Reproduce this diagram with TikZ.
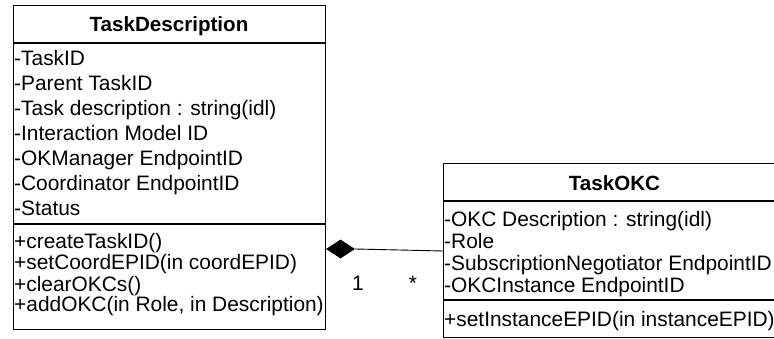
\documentclass[tikz,border=0pt]{standalone}
\usepackage{fontspec}
\setmainfont{Liberation Sans}
\usetikzlibrary{shapes.geometric}

\tikzset{
  classbox/.style={draw, line width=1.2pt, inner sep=0pt, anchor=north west},
  member/.style={anchor=base west, inner sep=0pt, font=\fontsize{20.9}{24}\selectfont},
  classname/.style={anchor=base, inner sep=0pt, font=\fontsize{20.6}{24}\selectfont\bfseries},
  comp/.style={diamond, fill=black, inner sep=0pt, minimum width=29pt, minimum height=19pt},
  mult/.style={anchor=base, inner sep=0pt, font=\fontsize{20.9}{24}\selectfont},
}

\begin{document}
\begin{tikzpicture}[x=1pt, y=-1pt]
        \useasboundingbox (0,0) rectangle (774,339);

        % TaskDescription class
        \node[classbox, minimum width=312pt, minimum height=324pt] (desc) at (13,5) {};
        \draw[line width=1.2pt] (desc.west |- 0,43) -- (desc.east |- 0,43);
        \draw[line width=1.2pt] (desc.west |- 0,224) -- (desc.east |- 0,224);
        \node[classname] (desctitle) at (169,31.5) {TaskDescription};
        \node[member] (da1) at (14,65.5) {-TaskID};
        \node[member] (da2) at (14,90.5) {-Parent TaskID};
        \node[member] (da3) at (14,115.5) {-Task description : string(idl)};
        \node[member] (da4) at (14,140.5) {-Interaction Model ID};
        \node[member] (da5) at (14,165.5) {-OKManager EndpointID};
        \node[member] (da6) at (14,190.5) {-Coordinator EndpointID};
        \node[member] (da7) at (14,215.5) {-Status};
        \node[member] (dm1) at (14,248.5) {+createTaskID()};
        \node[member] (dm2) at (14,269.5) {+setCoordEPID(in coordEPID)};
        \node[member] (dm3) at (14,291) {+clearOKCs()};
        \node[member] (dm4) at (14,312) {+addOKC(in Role, in Description)};

        % TaskOKC class
        \node[classbox, minimum width=343pt, minimum height=174pt] (okc) at (443,163) {};
        \draw[line width=1.2pt] (okc.west |- 0,201) -- (okc.east |- 0,201);
        \draw[line width=1.2pt] (okc.west |- 0,300) -- (okc.east |- 0,300);
        \node[classname] (okctitle) at (614.5,190.5) {TaskOKC};
        \node[member] (oa1) at (444,226.5) {-OKC Description : string(idl)};
        \node[member] (oa2) at (444,248.5) {-Role};
        \node[member] (oa3) at (444,270.5) {-SubscriptionNegotiator EndpointID};
        \node[member] (oa4) at (444,292.5) {-OKCInstance EndpointID};
        \node[member] (om1) at (444,326) {+setInstanceEPID(in instanceEPID)};

        % Composition
        \node[comp] (whole) at (340.5,249) {};
        \coordinate (part) at (443,251);
        \draw[line width=0.9pt] (whole.east) -- (part);
        \node[mult] (mwhole) at (358,290.5) {1};
        \node[mult] (mpart) at (413,290.5) {*};
\end{tikzpicture}
\end{document}
